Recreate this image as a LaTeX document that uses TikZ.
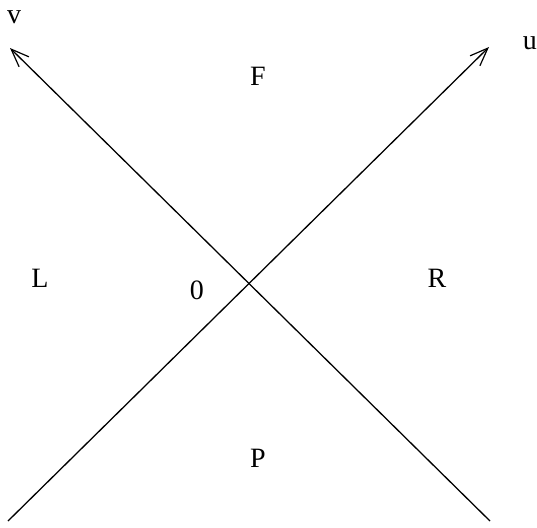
\documentclass[tikz,border=0pt]{standalone}
\usepackage{fontspec}
\setmainfont{Liberation Serif}
\usetikzlibrary{arrows.meta}
\tikzset{
  axis/.style={line width=0.65pt,-{Straight Barb[length=9pt,width=7pt,line width=0.6pt]}},
  region/.style={font=\fontsize{14}{17}\selectfont,inner sep=0pt}
}

\begin{document}
\begin{tikzpicture}[x=0.5pt,y=-0.5pt]
  \useasboundingbox (0,0) rectangle (537,527);
  % ends of the two null lines
  \coordinate (Ustart) at (8,521);
  \coordinate (Uend) at (489,47);
  \coordinate (Vstart) at (490,521);
  \coordinate (Vend) at (10,48);
  \draw[axis] (Ustart) -- (Uend);
  \draw[axis] (Vstart) -- (Vend);
  % labels
  \node[region] (u) at (530,43) {u};
  \node[region] (v) at (14,17) {v};
  \node[region] (F) at (258,76) {F};
  \node[region] (L) at (40,278) {L};
  \node[region] (R) at (437,278) {R};
  \node[region] (P) at (258,458) {P};
  \node[region] (zero) at (197,290) {0};
\end{tikzpicture}
\end{document}
